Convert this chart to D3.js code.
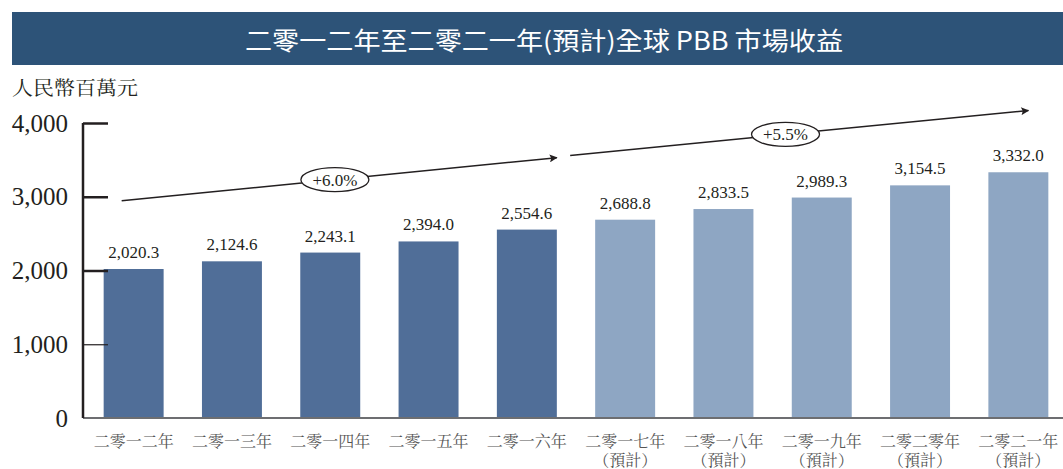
<!DOCTYPE html>
<html>
<head>
<meta charset="utf-8">
<script src="https://cdn.jsdelivr.net/npm/d3@7"></script>
<style>
  body { margin: 0; background: #fff; }
  svg { display: block; }
</style>
</head>
<body>
<svg id="chart" width="1063" height="469"></svg>
<script>
// Data ------------------------------------------
var years = ["二零一二年", "二零一三年", "二零一四年", "二零一五年", "二零一六年",
             "二零一七年", "二零一八年", "二零一九年", "二零二零年", "二零二一年"];
var revenue = [2020.3, 2124.6, 2243.1, 2394.0, 2554.6, 2688.8, 2833.5, 2989.3, 3154.5, 3332.0];
var forecast = [false, false, false, false, false, true, true, true, true, true];
var yTicks = [0, 1000, 2000, 3000, 4000];
var cagr = [
  { from: 0, to: 4, label: "+6.0%", y0: 2945, y1: 3530 },
  { from: 5, to: 9, label: "+5.5%", y0: 3560, y1: 4170 }
];

var svg = d3.select("#chart");
var width = 1063, height = 469;

// Scales ---------------------------------------
var x = d3.scaleBand()
    .domain(d3.range(years.length))
    .range([84, 1068])
    .paddingInner(0.39)
    .paddingOuter(0.2);

var y = d3.scaleLinear()
    .domain([0, 4000])
    .range([418, 123]);

// Title bar ------------------------------------
svg.append("rect")
    .attr("x", 12).attr("y", 12)
    .attr("width", width - 12).attr("height", 53)
    .attr("fill", "#2d5378");

svg.append("text")
    .attr("x", 544).attr("y", 50)
    .attr("text-anchor", "middle")
    .attr("fill", "#fff")
    .attr("font-family", "'Noto Sans CJK TC', sans-serif")
    .attr("font-size", 25)
    .attr("textLength", 598)
    .attr("lengthAdjust", "spacingAndGlyphs")
    .text("二零一二年至二零二一年(預計)全球 PBB 市場收益");

svg.append("text")
    .attr("x", 12).attr("y", 95)
    .attr("fill", "#231f20")
    .attr("font-family", "'Noto Serif CJK TC', 'Noto Sans CJK TC', serif")
    .attr("font-size", 19)
    .attr("textLength", 126)
    .attr("lengthAdjust", "spacingAndGlyphs")
    .text("人民幣百萬元");

// Bars -----------------------------------------
svg.selectAll(".bar")
    .data(revenue)
    .enter()
    .append("rect")
    .attr("class", "bar")
    .attr("x", function(d, i) { return x(i) })
    .attr("y", function(d) { return y(d) })
    .attr("width", x.bandwidth())
    .attr("height", function(d) { return y(0) - y(d) })
    .attr("fill", function(d, i) { return forecast[i] ? "#8ea6c3" : "#506e98" });

svg.selectAll(".value")
    .data(revenue)
    .enter()
    .append("text")
    .attr("class", "value")
    .attr("x", function(d, i) { return x(i) + x.bandwidth()/2 })
    .attr("y", function(d) { return y(d) - 11 })
    .attr("text-anchor", "middle")
    .attr("fill", "#231f20")
    .attr("font-family", "'Liberation Serif', serif")
    .attr("font-size", 17)
    .text(function(d) { return d3.format(",.1f")(d) });

// Baseline -------------------------------------
svg.append("line")
    .attr("x1", 83).attr("x2", width)
    .attr("y1", y(0)).attr("y2", y(0))
    .attr("stroke", "#6d6e71")
    .attr("stroke-width", 2);

// Y axis ---------------------------------------
var yAxis = svg.append("g")
    .attr("transform", "translate(83,0)")
    .call(d3.axisLeft(y)
        .tickValues(yTicks)
        .tickSize(-25)
        .tickPadding(15)
        .tickFormat(d3.format(",")));

yAxis.select(".domain")
    .attr("d", "M0," + y(4000) + "V" + y(0))
    .attr("stroke", "#231f20")
    .attr("stroke-width", 2.5);
yAxis.selectAll(".tick line")
    .attr("stroke", "#231f20")
    .attr("stroke-width", function(d) { return d == 1000 ? 1.2 : 2.5 })
    .attr("display", function(d) { return d == 0 ? "none" : null });
yAxis.selectAll(".tick text")
    .attr("fill", "#231f20")
    .attr("font-family", "'Liberation Serif', serif")
    .attr("font-size", 25);

// X labels -------------------------------------
var xl = svg.selectAll(".xlabel")
    .data(years)
    .enter()
    .append("text")
    .attr("class", "xlabel")
    .attr("text-anchor", "middle")
    .attr("fill", "#555")
    .attr("font-family", "'Noto Serif CJK TC', 'Noto Sans CJK TC', serif")
    .attr("font-size", 16);

xl.append("tspan")
    .attr("x", function(d, i) { return x(i) + x.bandwidth()/2 })
    .attr("y", 447)
    .text(function(d) { return d });
xl.filter(function(d, i) { return forecast[i] })
    .append("tspan")
    .attr("x", function(d, i) { return x(i + 5) + x.bandwidth()/2 })
    .attr("y", 466)
    .text("（預計）");

// CAGR arrows ----------------------------------
svg.append("defs").append("marker")
    .attr("id", "arrow")
    .attr("viewBox", "0 0 10 10")
    .attr("refX", 9).attr("refY", 5)
    .attr("markerWidth", 10).attr("markerHeight", 8)
    .attr("markerUnits", "userSpaceOnUse")
    .attr("orient", "auto")
    .append("path")
    .attr("d", "M0,0L10,5L0,10L2,5Z")
    .attr("fill", "#231f20");

var arrows = svg.selectAll(".cagr")
    .data(cagr)
    .enter()
    .append("g")
    .attr("class", "cagr");

function ax0(d) { return d.from == 0 ? x(d.from) + 18 : x(d.from) - 25 }
function ax1(d) { return d.to == 4 ? x(d.to) + x.bandwidth() : x(d.to) + 40 }

arrows.append("line")
    .attr("x1", ax0)
    .attr("y1", function(d) { return y(d.y0) })
    .attr("x2", ax1)
    .attr("y2", function(d) { return y(d.y1) })
    .attr("stroke", "#231f20")
    .attr("stroke-width", 1.5)
    .attr("marker-end", "url(#arrow)");

function mid(d, t) {
  return {
    x: ax0(d) + (ax1(d) - ax0(d)) * t,
    y: y(d.y0) + (y(d.y1) - y(d.y0)) * t
  };
}

arrows.append("ellipse")
    .attr("cx", function(d) { return mid(d, d.from == 0 ? 0.49 : 0.47).x })
    .attr("cy", function(d) { return mid(d, d.from == 0 ? 0.49 : 0.47).y })
    .attr("rx", 34).attr("ry", 12)
    .attr("fill", "#fff")
    .attr("stroke", "#231f20")
    .attr("stroke-width", 1.3);

arrows.append("text")
    .attr("x", function(d) { return mid(d, d.from == 0 ? 0.49 : 0.47).x })
    .attr("y", function(d) { return mid(d, d.from == 0 ? 0.49 : 0.47).y + 6 })
    .attr("text-anchor", "middle")
    .attr("fill", "#231f20")
    .attr("font-family", "'Liberation Serif', serif")
    .attr("font-size", 17)
    .text(function(d) { return d.label });
</script>
</body>
</html>
